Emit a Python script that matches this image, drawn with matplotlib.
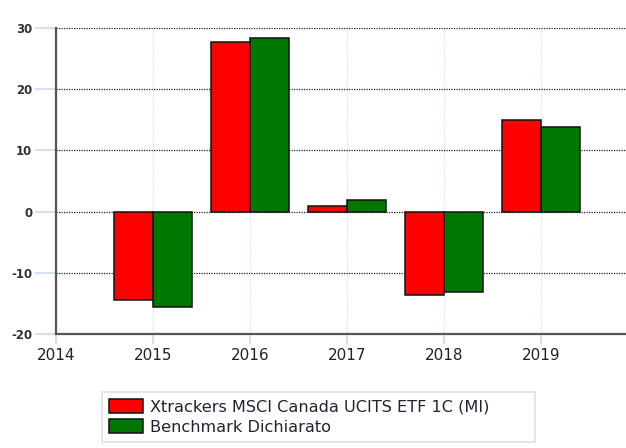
import matplotlib.pyplot as plt
import numpy as np

# yearly returns
years = [2015, 2016, 2017, 2018, 2019]
fund = [-14.4, 27.7, 0.9, -13.6, 15.0]
bench = [-15.6, 28.4, 1.9, -13.1, 13.8]
names = ["Xtrackers MSCI Canada UCITS ETF 1C (MI)", "Benchmark Dichiarato"]
xticks = [2014, 2015, 2016, 2017, 2018, 2019]
yticks = [-20, -10, 0, 10, 20, 30]

fig = plt.figure(figsize=(6.26, 4.48), dpi=100)
ax = fig.add_axes([0.0895, 0.2545, 0.93, 0.683])

x = np.array(years)
w = 0.4
b1 = ax.bar(x - w / 2, fund, w, color="#ff0000", edgecolor="#111111", linewidth=1.1, label=names[0], zorder=3)
b2 = ax.bar(x + w / 2, bench, w, color="#007700", edgecolor="#111111", linewidth=1.1, label=names[1], zorder=3)

ax.set_xlim(2014, 2020)
ax.set_ylim(-20, 30)
ax.set_xticks(xticks)
ax.set_yticks(yticks)
ax.set_xticklabels([str(t) for t in xticks], fontsize=11, color="#222222")
ax.set_yticklabels([str(t) for t in yticks], fontsize=8.5, color="#333333", fontweight="bold")

# horizontal black dotted grid, vertical light blue dotted grid
ax.yaxis.grid(True, linestyle=(0, (1, 1)), color="#222222", linewidth=0.9, zorder=1)
ax.xaxis.grid(True, linestyle=(0, (1, 1)), color="#cfe0f5", linewidth=0.9, zorder=1)

ax.tick_params(axis="y", length=15, width=1.2, color="#c6dcf5", pad=2)
ax.tick_params(axis="x", length=7, width=1.2, color="#c6dcf5", pad=3)

for s in ["top", "right"]:
    ax.spines[s].set_visible(False)
for s in ["left", "bottom"]:
    ax.spines[s].set_color("#555555")
    ax.spines[s].set_linewidth(1.6)

leg = fig.legend(handles=[b1, b2], loc="upper left", bbox_to_anchor=(102 / 626, 1 - 392 / 448, 433 / 626, 0.0),
                 mode="expand", fontsize=11.6, frameon=True, fancybox=False, handlelength=2.1, handleheight=0.9,
                 handletextpad=0.4, labelspacing=0.3, borderaxespad=0.0, borderpad=0.45)
leg.get_frame().set_edgecolor("#d8d8d8")
leg.get_frame().set_linewidth(1.2)
for t in leg.get_texts():
    t.set_color("#222233")

fig.savefig("out.png", dpi=100)
